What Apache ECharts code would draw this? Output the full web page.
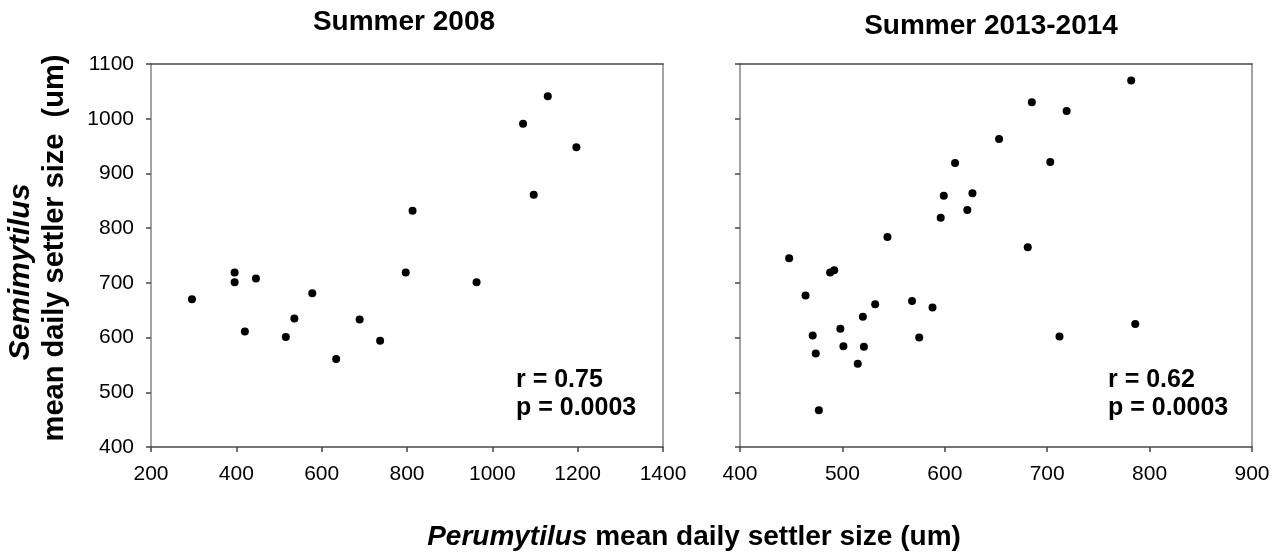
<!DOCTYPE html>
<html>
<head>
<meta charset="utf-8">
<script src="https://cdn.jsdelivr.net/npm/echarts@6/dist/echarts.min.js"></script>
<style>
    html, body { margin: 0; padding: 0; background: #fff; }
    #main { width: 1283px; height: 554px; }
</style>
</head>
<body>
<div id="main"></div>
<script>
// summer 2008 (Perumytilus size, Semimytilus size)
const x2008 = [296, 396, 396, 446, 420, 516, 536, 578, 634, 689, 737, 797, 813, 963, 1072, 1097, 1130, 1197];
const y2008 = [670, 719, 701, 708, 611, 601, 635, 681, 561, 633, 594, 719, 832, 701, 991, 861, 1041, 948];

// summer 2013-2014
const x2013 = [782, 685, 719, 653, 610, 703, 599, 627, 622, 596, 544, 681, 448, 488, 492, 464, 568, 532, 588, 520, 786, 498, 471, 474, 501, 521, 515, 575, 712, 477];
const y2013 = [1070, 1030, 1014, 963, 919, 921, 859, 864, 833, 819, 784, 765, 745, 719, 723, 677, 667, 661, 655, 638, 625, 616, 604, 571, 584, 583, 552, 600, 602, 467];

const titles = ['Summer 2008', 'Summer 2013-2014'];
const stats = [['r = 0.75', 'p = 0.0003'], ['r = 0.62', 'p = 0.0003']];

const font = 'Arial, "Liberation Sans", sans-serif';
const darkLine = '#474747';
const greyLine = '#858585';

function pairs(xs, ys) {
    return xs.map((x, i) => [x, ys[i]]);
}

// plain numbers, no thousands separator
const tickLabel = { fontFamily: font, fontSize: 21, color: '#000', margin: 17, formatter: v => String(v) };

// bottom x axis, plus a plain top line to close the box
function xAxes(grid, min, max, step) {
    return [{
        type: 'value', gridIndex: grid, min: min, max: max, interval: step,
        axisLine: { show: true, lineStyle: { color: darkLine, width: 1.5 } },
        axisTick: { show: true, length: 5, lineStyle: { color: darkLine, width: 1.5 } },
        axisLabel: tickLabel,
        splitLine: { show: false }
    }, {
        type: 'value', gridIndex: grid, position: 'top', min: min, max: max,
        axisLine: { show: true, onZero: false, lineStyle: { color: darkLine, width: 1.5 } },
        axisTick: { show: false }, axisLabel: { show: false }, splitLine: { show: false }
    }];
}

function yAxes(grid, labels) {
    return [{
        type: 'value', gridIndex: grid, min: 400, max: 1100, interval: 100,
        axisLine: { show: true, onZero: false, lineStyle: { color: greyLine, width: 1.5 } },
        axisTick: { show: true, length: 5, lineStyle: { color: darkLine, width: 1.5 } },
        axisLabel: Object.assign({}, tickLabel, { show: labels }),
        splitLine: { show: false }
    }, {
        type: 'value', gridIndex: grid, position: 'right', min: 400, max: 1100,
        axisLine: { show: true, onZero: false, lineStyle: { color: greyLine, width: 1.5 } },
        axisTick: { show: false }, axisLabel: { show: false }, splitLine: { show: false }
    }];
}

function statText(x, lines) {
    return {
        type: 'text', left: x, top: 366,
        style: {
            text: lines.join('\n'), font: 'bold 25px ' + font, fill: '#000', lineHeight: 28
        }
    };
}

const option = {
    backgroundColor: '#fff',
    animation: false,
    grid: [
        { left: 151, top: 64, width: 512, height: 383, outerBoundsMode: 'none' },
        { left: 740, top: 64, width: 512, height: 383, outerBoundsMode: 'none' }
    ],
    xAxis: [].concat(xAxes(0, 200, 1400, 200), xAxes(1, 400, 900, 100)),
    yAxis: [].concat(yAxes(0, true), yAxes(1, false)),
    series: [{
        type: 'scatter', xAxisIndex: 0, yAxisIndex: 0,
        symbol: 'circle', symbolSize: 8,
        itemStyle: { color: '#000', opacity: 1 },
        data: pairs(x2008, y2008)
    }, {
        type: 'scatter', xAxisIndex: 2, yAxisIndex: 2,
        symbol: 'circle', symbolSize: 8,
        itemStyle: { color: '#000', opacity: 1 },
        data: pairs(x2013, y2013)
    }],
    graphic: [
        // panel titles
        { type: 'text', x: 404, y: 22, style: { text: titles[0], font: 'bold 28px ' + font, fill: '#000', align: 'center', verticalAlign: 'middle' } },
        { type: 'text', x: 991, y: 26, style: { text: titles[1], font: 'bold 28px ' + font, fill: '#000', align: 'center', verticalAlign: 'middle' } },
        statText(516, stats[0]),
        statText(1108, stats[1]),
        // y axis name, two lines
        {
            type: 'text', x: 21, y: 272, rotation: Math.PI / 2,
            style: { text: 'Semimytilus', font: 'italic bold 30px ' + font, fill: '#000', align: 'center', verticalAlign: 'middle' }
        },
        {
            type: 'text', x: 55, y: 248, rotation: Math.PI / 2,
            style: { text: 'mean daily settler size  (um)', font: 'bold 29px ' + font, fill: '#000', align: 'center', verticalAlign: 'middle' }
        },
        // shared x axis name
        {
            type: 'text', x: 694, y: 537,
            style: {
                text: '{i|Perumytilus} mean daily settler size (um)',
                font: 'bold 28px ' + font, fill: '#000', align: 'center', verticalAlign: 'middle',
                rich: { i: { fontStyle: 'italic', fontWeight: 'bold', fontSize: 28, fontFamily: font } }
            }
        }
    ]
};

let plot = echarts.init(document.querySelector('#main'));
plot.setOption(option);
</script>
</body>
</html>
